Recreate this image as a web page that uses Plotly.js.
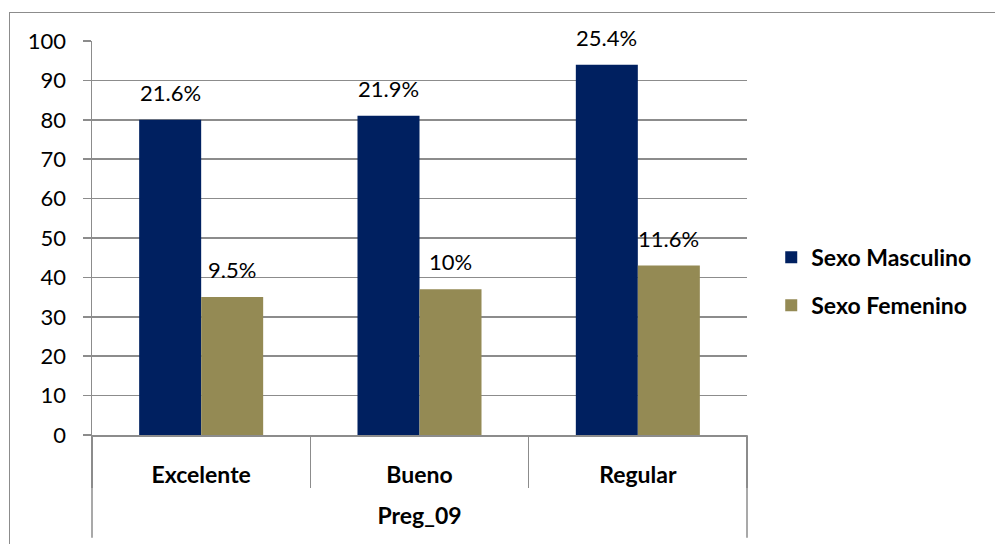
<!DOCTYPE html>
<html>
<head>
<meta charset="utf-8">
<script src="https://cdn.plot.ly/plotly-3.0.1.min.js"></script>
<style>
html,body{margin:0;padding:0;background:#fff;}
#frame{position:absolute;left:9px;top:12px;width:1000px;height:540px;border:1.5px solid #8c8c8c;box-sizing:border-box;}
#chart{position:absolute;left:0;top:0;width:995px;height:544px;}
</style>
</head>
<body>
<div id="frame"></div>
<div id="chart"></div>
<script>
const groupLabel = "Preg_09";
const categories = ["Excelente", "Bueno", "Regular"];
const masculino = [80, 81, 94];
const femenino = [35, 37, 43];
const masculinoPct = ["21.6%", "21.9%", "25.4%"];
const femeninoPct = ["9.5%", "10%", "11.6%"];
const seriesNames = ["Sexo Masculino", "Sexo Femenino"];
const colors = ["#002060", "#948a54"];

const FONT = "Lato, 'Open Sans', sans-serif";
const LINE = "#8c8c8c";

const traces = [
  {type: "bar", name: seriesNames[0], legendgroup: "m", x: categories, y: masculino, marker: {color: colors[0]}},
  {type: "bar", name: seriesNames[1], legendgroup: "f", x: categories, y: femenino, marker: {color: colors[1]}},
  {type: "scatter", mode: "none", x: categories, y: masculino, xaxis: "x2", yaxis: "y",
   showlegend: false, hoverinfo: "skip"}
];

const gap = 0.432;
const half = (1 - gap) / 4;
const annotations = [];
categories.forEach((c, i) => {
  annotations.push({x: i - half, y: masculino[i], xref: "x", yref: "y", text: masculinoPct[i],
    showarrow: false, yanchor: "bottom", yshift: 12, font: {family: FONT, size: 22, color: "#000"}});
  annotations.push({x: i + half, y: femenino[i], xref: "x", yref: "y", text: femeninoPct[i],
    showarrow: false, yanchor: "bottom", yshift: 12, font: {family: FONT, size: 22, color: "#000"}});
});

const shapes = [0, 1].map(d => ({type: "line", xref: "x domain", yref: "paper",
  x0: d, x1: d, y0: 0, y1: -0.261, line: {color: LINE, width: 1.5}}));

const layout = {
  width: 995, height: 544,
  margin: {l: 92, r: 248, t: 41, b: 109},
  paper_bgcolor: "rgba(0,0,0,0)",
  plot_bgcolor: "rgba(0,0,0,0)",
  barmode: "group",
  bargap: gap,
  bargroupgap: 0,
  font: {family: FONT, color: "#000"},
  showlegend: true,
  legend: {x: 1.037, xanchor: "left", y: 0.39, yanchor: "middle",
    traceorder: "grouped",
    font: {family: FONT, size: 23, color: "#000", weight: "bold"},
    tracegroupgap: 15, bgcolor: "rgba(0,0,0,0)"},
  xaxis: {
    type: "category", range: [-0.5, 2.5],
    showline: true, linecolor: LINE, linewidth: 1.5,
    ticks: "", showgrid: false, zeroline: false,
    ticklabelstandoff: 19,
    tickfont: {family: FONT, size: 23, color: "#000", weight: "bold"},
    title: {text: groupLabel, standoff: 21, font: {family: FONT, size: 23, color: "#000", weight: "bold"}}
  },
  xaxis2: {
    type: "category", range: [-0.5, 2.5], overlaying: "x", anchor: "y", side: "bottom",
    categoryarray: categories, categoryorder: "array",
    showline: false, showgrid: false, zeroline: false, showticklabels: false,
    ticks: "outside", tickson: "boundaries", ticklen: 52, tickcolor: LINE, tickwidth: 1.5
  },
  yaxis: {
    range: [0, 100], dtick: 10, tick0: 0,
    showline: true, linecolor: LINE, linewidth: 1.5,
    ticks: "outside", ticklen: 8, tickcolor: LINE, tickwidth: 1.5,
    showgrid: true, gridcolor: LINE, gridwidth: 1.5,
    zeroline: false,
    ticklabelstandoff: 12,
    tickfont: {family: FONT, size: 22, color: "#000"}
  },
  shapes: shapes,
  annotations: annotations
};

Plotly.newPlot("chart", traces, layout, {displayModeBar: false, staticPlot: true});
</script>
</body>
</html>
